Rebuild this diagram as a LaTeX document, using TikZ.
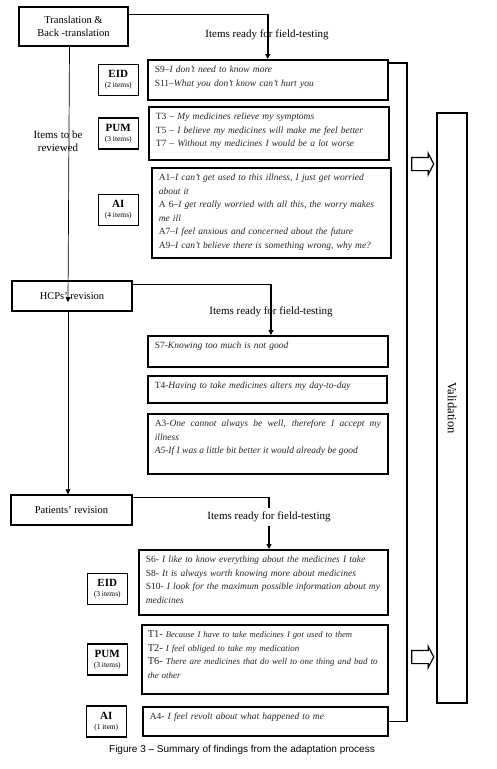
\documentclass[tikz,border=0pt]{standalone}
\usepackage{fontspec}
\setmainfont{Liberation Serif}
\newfontfamily\capfont{Liberation Sans}
\usetikzlibrary{shapes,arrows.meta,positioning}

\newcommand{\itemcode}[1]{{\fontsize{10.5}{13.5}\selectfont #1}}

\begin{document}
\begin{tikzpicture}[
    x=1pt, y=-1pt,
    stage/.style={draw, line width=1.5pt, align=center, font=\fontsize{10.5}{13}\selectfont},
    itembox/.style={draw, line width=1.5pt, anchor=north west, align=left, inner xsep=7pt, inner ysep=5pt, text height=8pt, font=\fontsize{9.5}{13.5}\selectfont, text=black!85},
    tag/.style={draw, line width=1.5pt, align=center, minimum width=40pt, minimum height=31pt, inner sep=1pt, font=\fontsize{11}{10}\selectfont},
    note/.style={font=\fontsize{11}{13}\selectfont},
    link/.style={line width=0.7pt},
    ready/.style={-{Triangle[length=5pt,width=5pt]}, line width=1.5pt},
    flow/.style={-{Triangle[length=5pt,width=5pt]}, line width=0.7pt},
    hollow/.style={draw, line width=1.2pt, single arrow, single arrow head extend=4pt, single arrow tip angle=125, minimum height=22pt, inner xsep=0pt, inner ysep=6pt}
]
    \useasboundingbox (0,0) rectangle (496,769);

    % Stages
    \node[stage, minimum width=109pt, minimum height=39pt] (trans) at (73.5,26.5) {Translation \&\\Back -translation};
    \node[stage, minimum width=120pt, minimum height=30pt] (hcp) at (72,296) {HCPs' revision};
    \node[stage, minimum width=121pt, minimum height=30pt] (pat) at (71.5,510) {Patients' revision};
    \node[note, align=center] (review) at (58,141) {Items to be\\reviewed};

    % Items after translation
    \node[itembox, text width=226pt, text depth=22pt] (s9) at (147,59) {S9--\textit{I don't need to know more}\\S11--\textit{What you don't know can't hurt you}};
    \node[itembox, text width=226pt, text depth=35pt] (t3) at (148,106) {T3 -- \textit{My medicines relieve my symptoms}\\T5 -- \textit{I believe my medicines will make me feel better}\\T7 -- \textit{Without my medicines I would be a lot worse}};
    \node[itembox, text width=225pt, text depth=72pt] (a1) at (151,167) {A1--\textit{I can't get used to this illness, I just get worried}\\\textit{about it}\\A 6--\textit{I get really worried with all this, the worry makes}\\\textit{me ill}\\A7--\textit{I feel anxious and concerned about the future}\\A9--\textit{I can't believe there is something wrong, why me?}};
    \node[tag, left=8pt of s9] (eid1) {\textbf{EID}\\{\fontsize{7.5}{8}\selectfont(2 items)}};
    \node[tag, left=9pt of t3] (pum1) {\textbf{PUM}\\{\fontsize{7.5}{8}\selectfont(3 items)}};
    \node[tag, left=12pt of a1, yshift=3pt] (ai1) {\textbf{AI}\\{\fontsize{7.5}{8}\selectfont(4 items)}};

    % Items after HCPs
    \node[itembox, text width=226pt, text depth=13pt] (s7) at (147,335) {S7-\textit{Knowing too much is not good}};
    \node[itembox, text width=225pt, text depth=9pt] (t4) at (147,375) {T4-\textit{Having to take medicines alters my day-to-day}};
    \node[itembox, text width=226pt, text depth=42pt, align=justify] (a3) at (147,413) {A3-\textit{One cannot always be well, therefore I accept my}\linebreak\textit{illness}\\\textit{A5-If I was a little bit better it would already be good}};

    % Items after patients
    \node[itembox, text width=235pt, text depth=47pt] (s6) at (138,549) {S6- \textit{I like to know everything about the medicines I take}\\S8- \textit{It is always worth knowing more about medicines}\\S10- \textit{I look for the maximum possible information about my}\\\textit{medicines}};
    \node[itembox, text width=234pt, inner xsep=6pt, text depth=51pt, font=\fontsize{9}{13.5}\selectfont] (t1) at (141,624) {\itemcode{T1-} {\fontsize{8.6}{13.5}\selectfont\itshape Because I have to take medicines I got used to them}\\\itemcode{T2-} \textit{I feel obliged to take my medication}\\\itemcode{T6-} \textit{There are medicines that do well to one thing and bad to}\\\textit{the other}};
    \node[itembox, text width=231pt, text depth=11pt] (a4) at (142,706) {A4- \textit{I feel revolt about what happened to me}};
    \node[tag, left=10pt of s6, yshift=-6.5pt] (eid2) {\textbf{EID}\\{\fontsize{7.5}{8}\selectfont(3 items)}};
    \node[tag, left=13pt of t1] (pum2) {\textbf{PUM}\\{\fontsize{7.5}{8}\selectfont(3 items)}};
    \node[tag, left=15pt of a4] (ai2) {\textbf{AI}\\{\fontsize{7.5}{8}\selectfont(1 item)}};

    % Validation
    \node[draw, line width=1.5pt, rotate=-90, minimum width=590pt, minimum height=30pt, font=\fontsize{12.5}{14}\selectfont] (valid) at (452,408) {Validation};
    \node[hollow] (go1) at (421,164) {};
    \node[hollow] (go2) at (421,657) {};

    % Labels
    \node[note] (ready1) at (267,35) {Items ready for field-testing};
    \node[note] (ready2) at (271,312) {Items ready for field-testing};
    \node[note] (ready3) at (269,517) {Items ready for field-testing};
    \node[font=\capfont\fontsize{10}{12}\selectfont] (caption) at (242,750) {Figure 3 \textendash{} Summary of findings from the adaptation process};

    % Arrows
    \draw[flow] ([xshift=-4pt]trans.south) -- ([xshift=-4pt,yshift=-6pt]hcp.center);
    \draw[flow] ([xshift=-4pt]hcp.south) -- ([xshift=-4pt]hcp.south |- pat.north);
    \draw[ready] ([yshift=-8pt]trans.north east) -| (s9);
    \draw[link] ([yshift=-4pt]hcp.north east) -- ([yshift=-4pt]hcp.north east -| ready2) coordinate (turn2);
    \draw[ready] (turn2) -- (turn2 |- s7.north);
    \draw[line width=1.5pt] ([yshift=-3pt]pat.north east) -| (ready3.north);
    \draw[ready] (ready3.south) -- (ready3.south |- s6.north);
    \coordinate (bus) at (407,400);
    \draw[line width=1.5pt] ([yshift=-4pt]s9.north east) -| (bus) |- (a4);

\end{tikzpicture}
\end{document}
